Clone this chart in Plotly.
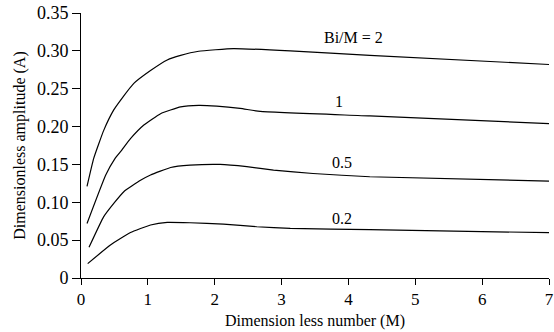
import plotly.graph_objects as go

# Data
m_2 = [0.09, 0.19, 0.34, 0.49, 0.61, 0.79, 1.04, 1.29, 1.49, 1.76, 2.28, 3.13, 4.32, 7.0]
a_2 = [0.121, 0.158, 0.195, 0.222, 0.237, 0.257, 0.274, 0.288, 0.294, 0.2995, 0.303, 0.300, 0.294, 0.282]

m_1 = [0.09, 0.37, 0.51, 0.61, 0.74, 0.94, 1.19, 1.49, 1.76, 2.03, 2.38, 2.68, 4.32, 7.0]
a_1 = [0.072, 0.136, 0.158, 0.169, 0.184, 0.202, 0.217, 0.226, 0.228, 0.227, 0.224, 0.220, 0.214, 0.204]

m_05 = [0.12, 0.34, 0.49, 0.64, 0.89, 1.04, 1.34, 1.63, 2.08, 2.48, 2.88, 3.47, 4.32, 7.0]
a_05 = [0.0405, 0.081, 0.0985, 0.114, 0.129, 0.136, 0.146, 0.149, 0.150, 0.147, 0.1425, 0.138, 0.1337, 0.128]

m_02 = [0.10, 0.44, 0.74, 1.04, 1.29, 1.63, 2.13, 2.63, 3.13, 4.32, 7.0]
a_02 = [0.019, 0.0435, 0.060, 0.070, 0.0735, 0.073, 0.0712, 0.0677, 0.0655, 0.064, 0.0598]

series = [(m_2, a_2), (m_1, a_1), (m_05, a_05), (m_02, a_02)]

labels = ["Bi/M = 2", "1", "0.5", "0.2"]
label_x = [4.07, 3.86, 3.90, 3.91]
label_y = [0.318, 0.2326, 0.153, 0.0788]

y_ticks = [0, 0.05, 0.10, 0.15, 0.20, 0.25, 0.30, 0.35]
y_ticktext = ["0", "0.05", "0.10", "0.15", "0.20", "0.25", "0.30", "0.35"]
x_ticks = [0, 1, 2, 3, 4, 5, 6, 7]

FONT = "Liberation Serif"

fig = go.Figure()
for mx, ay in series:
    fig.add_trace(go.Scatter(x=mx, y=ay, mode="lines",
                             line=dict(color="black", width=1.2, shape="spline", smoothing=0.4),
                             showlegend=False, hoverinfo="skip"))

for t, lx, ly in zip(labels, label_x, label_y):
    fig.add_annotation(x=lx, y=ly, xref="x", yref="y", text=t, showarrow=False,
                       font=dict(family=FONT, size=16, color="black"))

fig.update_layout(
    width=554, height=332,
    margin=dict(l=81, r=5, t=13, b=54),
    paper_bgcolor="white", plot_bgcolor="white",
    font=dict(family=FONT, size=16, color="black"),
)
fig.update_xaxes(range=[0, 7], tickvals=x_ticks, showgrid=False, zeroline=False,
                 showline=True, linecolor="black", linewidth=1,
                 ticks="outside", ticklen=6, tickcolor="black",
                 tickfont=dict(family=FONT, size=17),
                 title=dict(text="Dimension less number (M)", standoff=6,
                            font=dict(family=FONT, size=16)),
                 automargin=False)
fig.update_yaxes(range=[0, 0.35], tickvals=y_ticks, ticktext=y_ticktext, showgrid=False,
                 zeroline=False, showline=True, linecolor="black", linewidth=1,
                 ticks="outside", ticklen=8, tickcolor="black",
                 tickfont=dict(family=FONT, size=18),
                 title=dict(text="Dimensionless amplitude (A)", standoff=7,
                            font=dict(family=FONT, size=16)),
                 automargin=False)

fig.write_html("out.html")
